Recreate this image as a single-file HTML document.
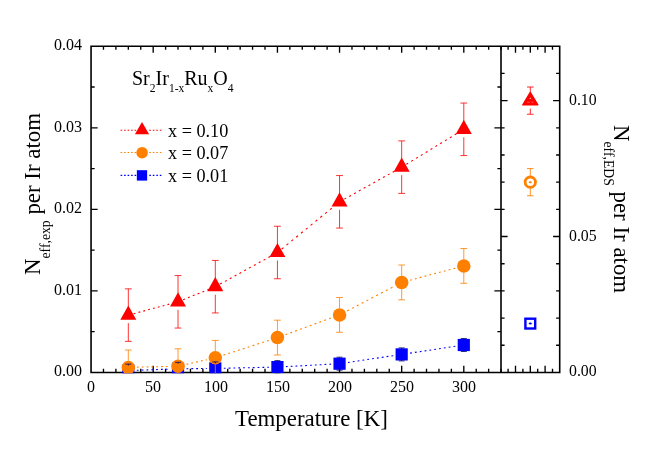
<!DOCTYPE html>
<html><head><meta charset="utf-8"><title>chart</title>
<style>html,body{margin:0;padding:0;background:#fff;}body{width:651px;height:460px;position:relative;overflow:hidden;font-family:"Liberation Serif",serif;color:#000;}.t{position:absolute;width:0;height:0;transform-origin:0 0;will-change:transform;}.t>div{position:absolute;left:0;white-space:nowrap;line-height:1;font-family:"Liberation Serif",serif;}.t span{position:relative;line-height:1;}</style>
</head><body>
<svg width="651" height="460" viewBox="0 0 651 460" style="position:absolute;left:0;top:0">
<rect width="651" height="460" fill="#fff"/>
<g stroke="#000" stroke-width="1.6" fill="none" stroke-linecap="square">
<path d="M91.05 46.25H559.7V372.45H91.05Z M501.0 46.25V372.45"/>
</g>
<g stroke="#000" stroke-width="1.35" fill="none">
<path d="M103.47 372.45v-3.6M103.47 46.25v3.6M115.90 372.45v-3.6M115.90 46.25v3.6M128.32 372.45v-3.6M128.32 46.25v3.6M140.75 372.45v-3.6M140.75 46.25v3.6M153.18 372.45v-6.6M153.18 46.25v6.6M165.60 372.45v-3.6M165.60 46.25v3.6M178.02 372.45v-3.6M178.02 46.25v3.6M190.45 372.45v-3.6M190.45 46.25v3.6M202.88 372.45v-3.6M202.88 46.25v3.6M215.30 372.45v-6.6M215.30 46.25v6.6M227.72 372.45v-3.6M227.72 46.25v3.6M240.15 372.45v-3.6M240.15 46.25v3.6M252.57 372.45v-3.6M252.57 46.25v3.6M265.00 372.45v-3.6M265.00 46.25v3.6M277.43 372.45v-6.6M277.43 46.25v6.6M289.85 372.45v-3.6M289.85 46.25v3.6M302.27 372.45v-3.6M302.27 46.25v3.6M314.70 372.45v-3.6M314.70 46.25v3.6M327.12 372.45v-3.6M327.12 46.25v3.6M339.55 372.45v-6.6M339.55 46.25v6.6M351.98 372.45v-3.6M351.98 46.25v3.6M364.40 372.45v-3.6M364.40 46.25v3.6M376.82 372.45v-3.6M376.82 46.25v3.6M389.25 372.45v-3.6M389.25 46.25v3.6M401.68 372.45v-6.6M401.68 46.25v6.6M414.10 372.45v-3.6M414.10 46.25v3.6M426.52 372.45v-3.6M426.52 46.25v3.6M438.95 372.45v-3.6M438.95 46.25v3.6M451.38 372.45v-3.6M451.38 46.25v3.6M463.80 372.45v-6.6M463.80 46.25v6.6M476.22 372.45v-3.6M476.22 46.25v3.6M488.65 372.45v-3.6M488.65 46.25v3.6M501.07 372.45v-3.6M501.07 46.25v3.6M91.05 331.68h3.6M501.0 331.68h-3.6M91.05 290.90h6.6M501.0 290.90h-6.6M91.05 250.12h3.6M501.0 250.12h-3.6M91.05 209.35h6.6M501.0 209.35h-6.6M91.05 168.58h3.6M501.0 168.58h-3.6M91.05 127.80h6.6M501.0 127.80h-6.6M91.05 87.02h3.6M501.0 87.02h-3.6M508.1 372.45v-3.6M508.1 46.25v3.6M515.5 372.45v-6.6M515.5 46.25v6.6M522.9 372.45v-3.6M522.9 46.25v3.6M530.3 372.45v-6.6M530.3 46.25v6.6M537.7 372.45v-3.6M537.7 46.25v3.6M545.1 372.45v-6.6M545.1 46.25v6.6M552.5 372.45v-3.6M552.5 46.25v3.6M501.0 345.27h3.6M559.7 345.27h-3.6M501.0 318.08h3.6M559.7 318.08h-3.6M501.0 290.90h3.6M559.7 290.90h-3.6M501.0 263.72h3.6M559.7 263.72h-3.6M501.0 236.53h6.6M559.7 236.53h-6.6M501.0 209.35h3.6M559.7 209.35h-3.6M501.0 182.17h3.6M559.7 182.17h-3.6M501.0 154.98h3.6M559.7 154.98h-3.6M501.0 127.80h3.6M559.7 127.80h-3.6M501.0 100.62h6.6M559.7 100.62h-6.6M501.0 73.43h3.6M559.7 73.43h-3.6"/>
</g>
<clipPath id="cp"><rect x="90.2" y="45.4" width="411.65" height="327.9"/></clipPath>
<g clip-path="url(#cp)">
<g stroke="#0000ff" stroke-width="1.1" fill="none"><line x1="136.82" y1="370.29" x2="169.53" y2="369.11" stroke-dasharray="1.80 3.03"/><line x1="186.52" y1="368.71" x2="206.80" y2="368.49" stroke-dasharray="1.80 3.03"/><line x1="223.80" y1="368.22" x2="268.93" y2="367.28" stroke-dasharray="1.80 3.03"/><line x1="285.91" y1="366.64" x2="331.06" y2="364.16" stroke-dasharray="1.80 3.03"/><line x1="347.96" y1="362.44" x2="393.27" y2="355.66" stroke-dasharray="1.82 3.06"/><line x1="410.08" y1="353.13" x2="455.40" y2="346.27" stroke-dasharray="1.82 3.06"/></g>
<g fill="#0000ff"><rect x="122.22" y="364.50" width="12.2" height="12.2"/><rect x="171.92" y="362.70" width="12.2" height="12.2"/><rect x="209.20" y="362.30" width="12.2" height="12.2"/><rect x="271.32" y="361.00" width="12.2" height="12.2"/><rect x="333.45" y="357.60" width="12.2" height="12.2"/><rect x="395.57" y="348.30" width="12.2" height="12.2"/><rect x="457.70" y="338.90" width="12.2" height="12.2"/></g>
<g stroke="#ff8000" stroke-width="1.1" fill="none"><line x1="136.92" y1="367.19" x2="169.43" y2="366.41" stroke-dasharray="1.80 3.03"/><line x1="186.41" y1="364.31" x2="206.91" y2="359.69" stroke-dasharray="1.85 3.11"/><line x1="223.48" y1="355.14" x2="269.25" y2="340.26" stroke-dasharray="1.89 3.19"/><line x1="285.50" y1="334.65" x2="331.47" y2="317.85" stroke-dasharray="1.92 3.23"/><line x1="347.17" y1="310.91" x2="394.05" y2="286.39" stroke-dasharray="2.03 3.42"/><line x1="409.99" y1="280.19" x2="455.49" y2="268.11" stroke-dasharray="1.86 3.14"/></g>
<g fill="#ff8000"><circle cx="128.32" cy="367.40" r="6.75"/><circle cx="178.02" cy="366.20" r="6.75"/><circle cx="215.30" cy="357.80" r="6.75"/><circle cx="277.43" cy="337.60" r="6.75"/><circle cx="339.55" cy="314.90" r="6.75"/><circle cx="401.68" cy="282.40" r="6.75"/><circle cx="463.80" cy="265.90" r="6.75"/></g>
<g stroke="#ff0000" stroke-width="1.1" fill="none"><line x1="133.64" y1="313.68" x2="172.71" y2="303.22" stroke-dasharray="1.86 3.14"/><line x1="183.12" y1="299.73" x2="210.20" y2="288.77" stroke-dasharray="1.94 3.27"/><line x1="220.12" y1="284.05" x2="272.61" y2="255.15" stroke-dasharray="2.05 3.46"/><line x1="281.69" y1="249.02" x2="335.29" y2="205.28" stroke-dasharray="2.32 3.91"/><line x1="344.35" y1="199.12" x2="396.87" y2="169.83" stroke-dasharray="2.06 3.47"/><line x1="406.37" y1="164.29" x2="459.10" y2="132.16" stroke-dasharray="2.11 3.55"/></g>
<path fill="#ff0000" d="M128.32 305.50L136.32 319.70H120.32ZM178.02 292.20L186.02 306.40H170.02ZM215.30 277.10L223.30 291.30H207.30ZM277.43 242.90L285.43 257.10H269.43ZM339.55 192.20L347.55 206.40H331.55ZM401.68 157.55L409.68 171.75H393.68ZM463.80 119.70L471.80 133.90H455.80Z"/>
<path stroke="#000070" stroke-width="0.8" fill="none" d="M125.32 364.10h6.0M128.32 364.10V365.60M125.32 377.10h6.0M128.32 377.10V375.60M175.02 362.30h6.0M178.02 362.30V363.80M175.02 375.30h6.0M178.02 375.30V373.80M212.30 361.90h6.0M215.30 361.90V363.40M212.30 374.90h6.0M215.30 374.90V373.40M274.43 360.60h6.0M277.43 360.60V362.10M274.43 373.60h6.0M277.43 373.60V372.10M336.55 357.20h6.0M339.55 357.20V358.70M336.55 370.20h6.0M339.55 370.20V368.70M398.68 347.90h6.0M401.68 347.90V349.40M398.68 360.90h6.0M401.68 360.90V359.40M460.80 338.50h6.0M463.80 338.50V340.00M460.80 351.50h6.0M463.80 351.50V350.00"/>
<path stroke="#ff8000" stroke-width="0.8" fill="none" d="M124.92 350.00h6.8M128.32 350.00V360.90M124.92 384.80h6.8M128.32 384.80V373.90M174.62 348.80h6.8M178.02 348.80V359.70M174.62 383.60h6.8M178.02 383.60V372.70M211.90 340.40h6.8M215.30 340.40V351.30M211.90 375.20h6.8M215.30 375.20V364.30M274.03 320.20h6.8M277.43 320.20V331.10M274.03 355.00h6.8M277.43 355.00V344.10M336.15 297.50h6.8M339.55 297.50V308.40M336.15 332.30h6.8M339.55 332.30V321.40M398.28 265.00h6.8M401.68 265.00V275.90M398.28 299.80h6.8M401.68 299.80V288.90M460.40 248.50h6.8M463.80 248.50V259.40M460.40 283.30h6.8M463.80 283.30V272.40"/>
<path stroke="#ff0000" stroke-width="0.8" fill="none" d="M124.92 288.85h6.8M128.32 288.85V307.10M124.92 341.35h6.8M128.32 341.35V323.10M174.62 275.55h6.8M178.02 275.55V293.80M174.62 328.05h6.8M178.02 328.05V309.80M211.90 260.45h6.8M215.30 260.45V278.70M211.90 312.95h6.8M215.30 312.95V294.70M274.03 226.25h6.8M277.43 226.25V244.50M274.03 278.75h6.8M277.43 278.75V260.50M336.15 175.55h6.8M339.55 175.55V193.80M336.15 228.05h6.8M339.55 228.05V209.80M398.28 140.90h6.8M401.68 140.90V159.15M398.28 193.40h6.8M401.68 193.40V175.15M460.40 103.05h6.8M463.80 103.05V121.30M460.40 155.55h6.8M463.80 155.55V137.30"/>
</g>
<path stroke="#ff0000" stroke-width="0.85" fill="none" d="M527.0 87.02h6.6M530.3 87.02V92.62M527.0 114.22h6.6M530.3 114.22V108.62"/>
<path fill="#ff0000" stroke="#ff0000" stroke-width="1.4" stroke-linejoin="round" d="M530.30 92.42L537.80 104.92H522.80Z"/>
<path fill="#fff" opacity="0.7" d="M530.3 97.42l1.0 1.7h-2.0z"/>
<path stroke="#fff" stroke-width="0.8" opacity="0.4" d="M527.0999999999999 102.22h2.4m1.6 0h2.4"/>
<path stroke="#ff8000" stroke-width="0.85" fill="none" d="M527.0 168.57h6.6M530.3 168.57V176.17M527.0 195.77h6.6M530.3 195.77V188.17"/>
<circle cx="530.3" cy="182.17" r="5.15" fill="#fff" stroke="#ff8000" stroke-width="2.8"/>
<ellipse cx="530.3" cy="182.17" rx="1.6" ry="1.0" fill="#ff8000"/>
<rect x="525.4" y="318.70" width="9.8" height="9.8" fill="#fff" stroke="#0000ff" stroke-width="2.4"/>
<ellipse cx="530.3" cy="323.60" rx="1.6" ry="1.0" fill="#0000ff"/>
<path stroke="#ff0000" stroke-width="1.1" stroke-dasharray="1.6 1.9" fill="none" d="M120.6 130.2H137.0M149.3 130.2H161.5"/>
<path stroke="#ff8000" stroke-width="1.1" stroke-dasharray="1.6 1.9" fill="none" d="M120.6 152.5H137.0M149.3 152.5H161.5"/>
<path stroke="#0000ff" stroke-width="1.1" stroke-dasharray="1.6 1.9" fill="none" d="M120.6 175.4H137.0M149.3 175.4H161.5"/>
<path fill="#ff0000" d="M142.00 122.10L149.10 134.20H134.90Z"/>
<circle cx="142.1" cy="152.7" r="5.8" fill="#ff8000"/>
<rect x="136.85" y="170.20000000000002" width="10.3" height="10.4" fill="#0000ff"/>
</svg>
<div class="t" style="left:167.7px;top:137.4px;"><div style="top:-15.24px;font-size:18.2px;">x = 0.10</div></div>
<div class="t" style="left:167.7px;top:159.4px;"><div style="top:-15.24px;font-size:18.2px;">x = 0.07</div></div>
<div class="t" style="left:167.7px;top:182.4px;"><div style="top:-15.24px;font-size:18.2px;">x = 0.01</div></div>
<div class="t" style="left:131.6px;top:84.6px;"><div style="top:-16.75px;font-size:20.0px;">Sr<span style="font-size:11.5px;top:7.2px">2</span>Ir<span style="font-size:11.5px;top:7.2px">1-x</span>Ru<span style="font-size:11.5px;top:7.2px">x</span>O<span style="font-size:11.5px;top:7.2px">4</span></div></div>
<div class="t" style="left:82.2px;top:376.45px;"><div style="top:-13.40px;font-size:16px;transform:translateX(-100%);">0.00</div></div>
<div class="t" style="left:82.2px;top:294.9px;"><div style="top:-13.40px;font-size:16px;transform:translateX(-100%);">0.01</div></div>
<div class="t" style="left:82.2px;top:213.35px;"><div style="top:-13.40px;font-size:16px;transform:translateX(-100%);">0.02</div></div>
<div class="t" style="left:82.2px;top:131.8px;"><div style="top:-13.40px;font-size:16px;transform:translateX(-100%);">0.03</div></div>
<div class="t" style="left:82.2px;top:50.25px;"><div style="top:-13.40px;font-size:16px;transform:translateX(-100%);">0.04</div></div>
<div class="t" style="left:568.8px;top:376.45px;"><div style="top:-13.23px;font-size:15.8px;">0.00</div></div>
<div class="t" style="left:568.8px;top:240.53px;"><div style="top:-13.23px;font-size:15.8px;">0.05</div></div>
<div class="t" style="left:568.8px;top:104.62px;"><div style="top:-13.23px;font-size:15.8px;">0.10</div></div>
<div class="t" style="left:91.25px;top:391.5px;"><div style="top:-13.40px;font-size:16px;transform:translateX(-50%);">0</div></div>
<div class="t" style="left:153.38px;top:391.5px;"><div style="top:-13.40px;font-size:16px;transform:translateX(-50%);">50</div></div>
<div class="t" style="left:215.5px;top:391.5px;"><div style="top:-13.40px;font-size:16px;transform:translateX(-50%);">100</div></div>
<div class="t" style="left:277.62px;top:391.5px;"><div style="top:-13.40px;font-size:16px;transform:translateX(-50%);">150</div></div>
<div class="t" style="left:339.75px;top:391.5px;"><div style="top:-13.40px;font-size:16px;transform:translateX(-50%);">200</div></div>
<div class="t" style="left:401.88px;top:391.5px;"><div style="top:-13.40px;font-size:16px;transform:translateX(-50%);">250</div></div>
<div class="t" style="left:464.0px;top:391.5px;"><div style="top:-13.40px;font-size:16px;transform:translateX(-50%);">300</div></div>
<div class="t" style="left:235.0px;top:427.0px;"><div style="top:-19.18px;font-size:22.9px;">Temperature [K]</div></div>
<div class="t" style="left:41.3px;top:275.2px;transform:rotate(-90deg);"><div style="top:-19.18px;font-size:22.9px;">N<span style="font-size:13.7px;top:10.0px">eff,exp</span> per Ir atom</div></div>
<div class="t" style="left:613.0px;top:125.4px;transform:rotate(90deg);"><div style="top:-19.18px;font-size:22.9px;">N<span style="font-size:13.7px;top:10.4px">eff,EDS</span> per Ir atom</div></div>
</body></html>
